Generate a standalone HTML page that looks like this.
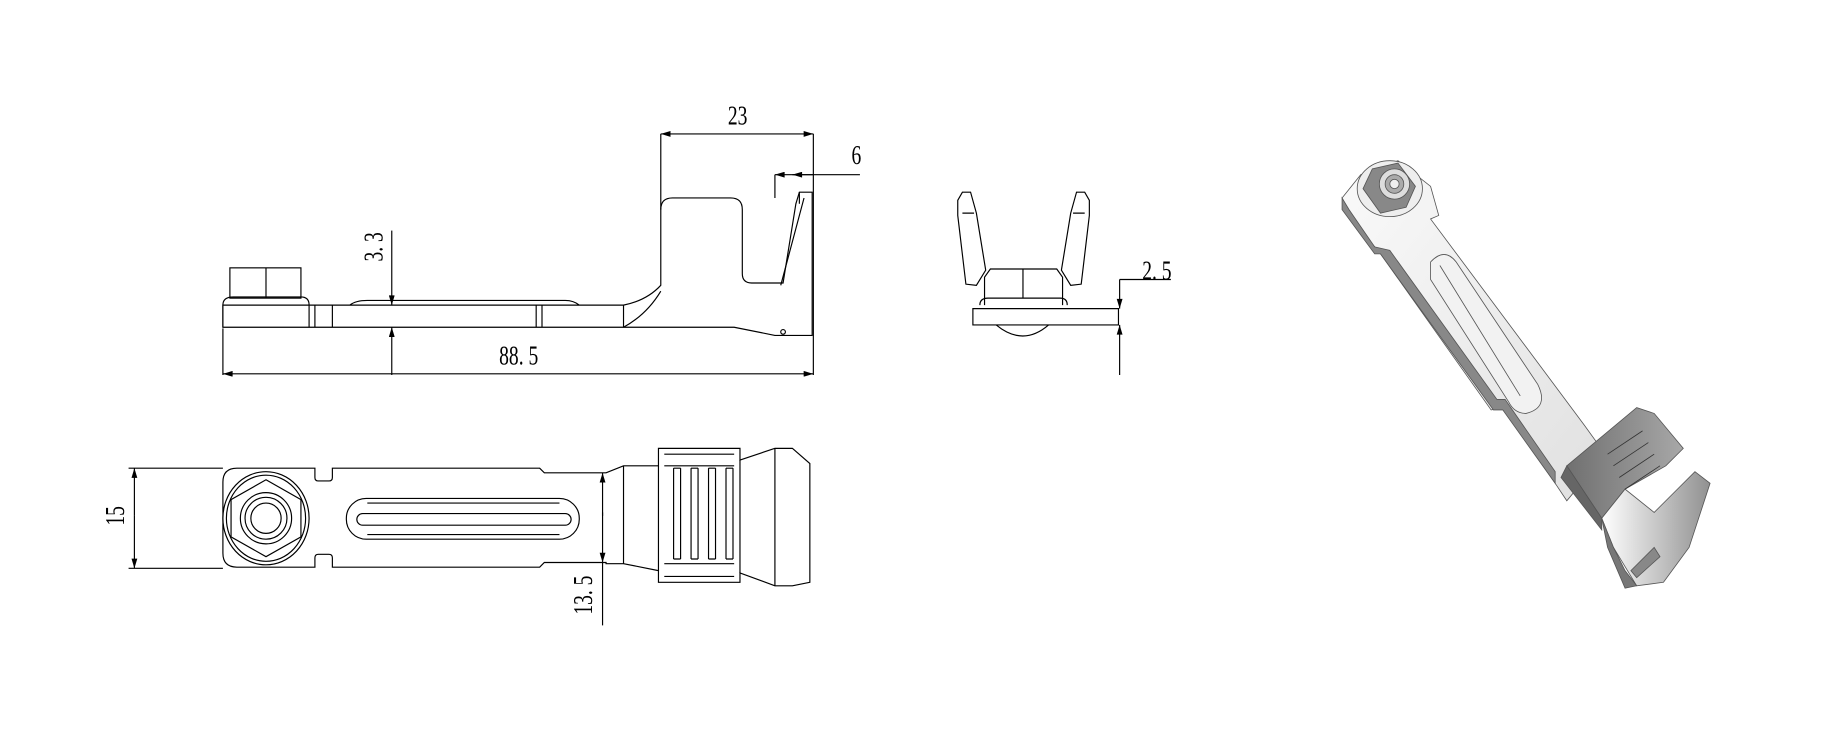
<!DOCTYPE html>
<html><head><meta charset="utf-8"><style>html,body{margin:0;padding:0;background:#fff}svg{display:block}</style></head>
<body>
<svg width="1827" height="743" viewBox="0 0 1568 638" xmlns="http://www.w3.org/2000/svg">
<defs>
<marker id="a" viewBox="0 0 10 6" refX="10" refY="3" markerWidth="10" markerHeight="5" orient="auto-start-reverse" markerUnits="userSpaceOnUse"><path d="M0,0L10,3L0,6z" fill="#000"/></marker>
<linearGradient id="g1" x1="0" y1="0" x2="1" y2="1"><stop offset="0" stop-color="#fafafa"/><stop offset="1" stop-color="#e0e0e0"/></linearGradient>
<linearGradient id="g2" x1="0" y1="0" x2="1" y2="0"><stop offset="0" stop-color="#707070"/><stop offset="1" stop-color="#a8a8a8"/></linearGradient>
<linearGradient id="g3" x1="0" y1="0" x2="1" y2="0"><stop offset="0" stop-color="#fff"/><stop offset="1" stop-color="#909090"/></linearGradient>
</defs>
<g fill="none" stroke="#000" stroke-width="1" font-family="'Liberation Serif',serif" font-size="24">
<!-- SIDE VIEW -->
<path d="M191,262H535Q555,258 567,245V180Q567,170 577,170H627Q637,170 637,180V235Q637,243 645,243H672L683,175L686,165H697V288H665L630,281H191Z"/>
<path d="M191,281V262M265,262V281M270,262V281M285,262V281M460,262V281M465,262V281M535,262V281"/>
<path d="M300,262Q305,258 315,258H485Q492,258 497,262"/>
<path d="M535,281Q555,270 567,250"/>
<path d="M670,245L690,170M686,165V175"/>
<rect x="197" y="230" width="61" height="26"/><path d="M228,230V256M191,262Q191,255 200,255H258Q265,255 265,262"/>
<circle cx="672" cy="285" r="2"/>
<path d="M567,180V115M698,115V322M665,170V150M191,282V322"/>
<path d="M567,115H698" marker-start="url(#a)" marker-end="url(#a)"/>
<path d="M665,150H738" marker-start="url(#a)"/><path d="M698,150H680" marker-end="url(#a)"/>
<path d="M191,321H698" marker-start="url(#a)" marker-end="url(#a)"/>
<path d="M336,198V262" marker-end="url(#a)"/><path d="M336,322V281" marker-end="url(#a)"/>
<g stroke="none" fill="#000" text-anchor="middle">
<text transform="translate(633,107) scale(0.7,1)">23</text>
<text transform="translate(735,141) scale(0.7,1)">6</text>
<text transform="translate(445,313) scale(0.7,1)">88. 5</text>
<text transform="translate(328,212) rotate(-90) scale(0.7,1)">3. 3</text>
<text transform="translate(993,240) scale(0.7,1)">2. 5</text>
<text transform="translate(106,443) rotate(-90) scale(0.7,1)">15</text>
<text transform="translate(508,511) rotate(-90) scale(0.7,1)">13. 5</text>
</g>
<!-- FRONT VIEW -->
<path d="M835,265H960V279H835Z"/>
<path d="M855,279Q878,298 900,279"/>
<path d="M845,262V238L850,231H907L912,238V262M841,262Q841,256 848,256H910Q916,256 916,262M878,231V256"/>
<path d="M822,172L826,165H833L838,183L846,232L838,245L829,244L822,185Z"/>
<path d="M935,172L931,165H924L919,183L911,232L919,245L928,244L935,185Z"/>
<path d="M826,183H836M921,183H931"/>
<path d="M961,240V265" marker-end="url(#a)"/><path d="M961,322V279" marker-end="url(#a)"/>
<path d="M961,240H1005"/>
<!-- TOP VIEW -->
<path d="M203,402H270V410Q270,413 273,413H282Q285,413 285,410V402H463L467,406H520L535,400H565V385H635V395L665,385H680L695,398V500L680,503H665L635,492V500H565V490L535,484H520V483H467L463,487H285V479Q285,476 282,476H273Q270,476 270,479V487H203Q191,487 191,475V414Q191,402 203,402Z"/>
<path d="M565,400V490M635,395V492M570,390H630M570,495H630M535,400V484M665,385V503M570,400H630M570,484H630"/>
<path d="M578,402V480M584,402V480M593,402V480M599,402V480M608,402V480M614,402V480M623,402V480M629,402V480M578,402H584M593,402H599M608,402H614M623,402H629M578,480H584M593,480H599M608,480H614M623,480H629"/>
<ellipse cx="228" cy="445" rx="37" ry="40"/><ellipse cx="228" cy="445" rx="34" ry="37"/>
<path d="M228,412L258,429V461L228,478L198,461V429Z"/>
<circle cx="228" cy="445" r="22"/><circle cx="228" cy="445" r="18"/><circle cx="228" cy="445" r="13"/>
<rect x="297" y="428" width="200" height="35" rx="17"/>
<rect x="306" y="441" width="184" height="10" rx="5"/>
<path d="M315,432H480M315,459H480"/>
<path d="M191,402H110M191,488H110"/>
<path d="M115,443V402" marker-end="url(#a)"/><path d="M115,443V488" marker-end="url(#a)"/>
<path d="M517,443V406" marker-end="url(#a)"/><path d="M517,440V483" marker-end="url(#a)"/><path d="M517,483V537"/>
</g>
<!-- 3D VIEW -->
<g stroke="#555" stroke-width="0.7">
<path d="M1152,170L1168,150L1200,138L1228,160L1235,185L1228,188L1360,365L1378,390L1345,430L1335,415L1290,350L1280,352L1190,225L1185,218L1162,190Z" fill="url(#g1)"/>
<path d="M1152,170L1152,180L1180,218L1185,218L1190,225L1282,352L1290,352L1335,415L1335,405L1292,343L1285,343L1193,215L1180,212L1158,180Z" fill="#888"/>
<path d="M1228,225Q1240,212 1250,225L1320,330Q1330,350 1310,355Q1300,355 1295,345L1228,240Z" fill="#f2f2f2"/>
<path d="M1236,228L1305,340" fill="none"/>
<path d="M1345,400L1405,350L1420,355L1445,385L1430,400L1395,420L1375,445Z" fill="url(#g2)"/>
<path d="M1345,400L1375,445L1375,455L1340,410Z" fill="#666"/>
<path d="M1375,445L1395,420L1420,440L1440,420L1455,405L1468,415L1450,470L1428,500L1405,503L1385,470Z" fill="url(#g3)"/>
<path d="M1375,445L1385,470L1395,490L1405,503L1395,505L1380,470Z" fill="#777"/>
<path d="M1400,490L1420,470L1425,478L1405,496Z" fill="#888"/>
<path d="M1380,390L1410,370M1385,400L1415,380M1390,410L1420,390M1395,420L1425,400" fill="none" stroke="#333"/>
<ellipse cx="1193" cy="162" rx="28" ry="24" fill="#eee"/>
<path d="M1170,162L1178,145L1200,140L1215,160L1207,178L1185,183Z" fill="#888"/>
<circle cx="1197" cy="158" r="13" fill="#ddd"/><circle cx="1197" cy="158" r="8" fill="#aaa"/><circle cx="1197" cy="158" r="4" fill="#eee"/>
</g>
</svg>
</body></html>
